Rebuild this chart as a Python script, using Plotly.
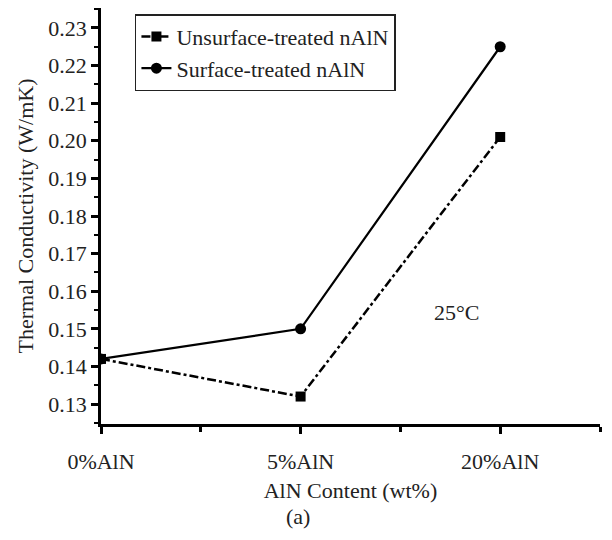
import plotly.graph_objects as go

categories = ["0%AlN", "5%AlN", "20%AlN"]
unsurface = [0.142, 0.132, 0.201]
surface = [0.142, 0.150, 0.225]
y_ticks = [0.13, 0.14, 0.15, 0.16, 0.17, 0.18, 0.19, 0.20, 0.21, 0.22, 0.23]

xpos = list(range(len(categories)))
FONT = "Liberation Serif"

fig = go.Figure()
fig.add_trace(go.Scatter(
    x=xpos, y=unsurface, name="Unsurface-treated nAlN",
    mode="lines+markers",
    line=dict(color="black", width=2.5, dash="dashdot"),
    marker=dict(symbol="square", size=10, color="black"),
))
fig.add_trace(go.Scatter(
    x=xpos, y=surface, name="Surface-treated nAlN",
    mode="lines+markers",
    line=dict(color="black", width=2.2),
    marker=dict(symbol="circle", size=11, color="black"),
))

fig.update_layout(
    width=612, height=540,
    margin=dict(l=101, r=12, t=8, b=116),
    paper_bgcolor="white", plot_bgcolor="white",
    font=dict(family=FONT, size=22, color="#222"),
    showlegend=True,
    legend=dict(
        x=0.068, y=0.985, xanchor="left", yanchor="top",
        bordercolor="#222", borderwidth=1.5, bgcolor="white",
        font=dict(family=FONT, size=22, color="#222"),
        tracegroupgap=0, itemwidth=30,
    ),
    xaxis=dict(
        range=[0, 2.5], tickvals=xpos, ticktext=categories,
        showline=True, linecolor="black", linewidth=2.5,
        ticks="outside", ticklen=7, tickwidth=2.5, tickcolor="black",
        ticklabelstandoff=9,
        showgrid=False, zeroline=False,
        minor=dict(tickvals=[0.5, 1.5, 2.5], ticks="outside", ticklen=5,
                   tickwidth=2.5, tickcolor="black", showgrid=False),
        title=dict(text="AlN Content (wt%)", font=dict(family=FONT, size=22), standoff=10),
        tickfont=dict(family=FONT, size=22),
    ),
    yaxis=dict(
        range=[0.1247, 0.2353], tickvals=y_ticks,
        ticktext=[f"{v:.2f}" for v in y_ticks],
        showline=True, linecolor="black", linewidth=2.5,
        ticks="outside", ticklen=7, tickwidth=2.5, tickcolor="black",
        showgrid=False, zeroline=False,
        minor=dict(dtick=0.005, tick0=0.125, ticks="outside", ticklen=4,
                   tickwidth=2, tickcolor="black", showgrid=False),
        title=dict(text="Thermal Conductivity (W/mK)", font=dict(family=FONT, size=22), standoff=9),
        tickfont=dict(family=FONT, size=22),
    ),
    annotations=[
        dict(text="25°C", x=1.78, y=0.1544, xref="x", yref="y",
             showarrow=False, font=dict(family=FONT, size=22, color="#222")),
        dict(text="(a)", x=0.395, y=-0.257, xref="paper", yref="paper",
             showarrow=False, font=dict(family=FONT, size=22, color="#222")),
    ],
)

fig.write_html("out.html")
